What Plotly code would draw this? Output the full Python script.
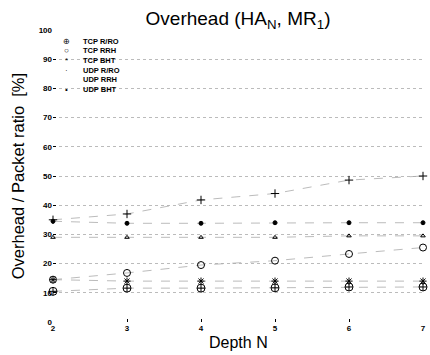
import plotly.graph_objects as go

depth = [2, 3, 4, 5, 6, 7]
tcp_rro = [10.5, 11.6, 11.6, 11.7, 12.0, 12.0]
tcp_rrh = [14.5, 16.8, 19.5, 21.0, 23.3, 25.5]
tcp_bht = [14.5, 14.0, 14.0, 14.0, 14.0, 14.0]
udp_rro = [29.0, 29.0, 29.0, 29.0, 29.5, 29.5]
udp_rrh = [35.0, 37.0, 41.8, 44.0, 48.6, 50.0]
udp_bht = [34.5, 33.8, 33.8, 34.0, 34.0, 34.0]

names = ["TCP R/RO", "TCP RRH", "TCP BHT", "UDP R/RO", "UDP RRH", "UDP BHT"]
series = [tcp_rro, tcp_rrh, tcp_bht, udp_rro, udp_rrh, udp_bht]
symbols = ["circle-cross-open", "circle-open", "asterisk-open", "triangle-up-open", "cross-thin-open", "circle"]
sizes = [8, 7, 6, 4, 6, 4]
glyphs = ["⊕", "○", "*", "·", "", "•"]
yticks = [0, 10, 20, 30, 40, 50, 60, 70, 80, 90, 100]
xticks = [2, 3, 4, 5, 6, 7]
xtick_text = ["2", "3", "4", "5", "6", "7"]

fig = go.Figure()
for name, vals, sym, sz in zip(names, series, symbols, sizes):
    fig.add_trace(go.Scatter(
        x=depth, y=vals, name=name, mode="lines+markers",
        line=dict(color="#aaa", width=0.8, dash="dash"),
        marker=dict(symbol=sym, size=sz, color="black", line=dict(color="black", width=1)),
        cliponaxis=False, showlegend=False))

font = "Liberation Sans, Arial, sans-serif"
W, H, L, R, T, B = 430, 355, 53, 4, 30, 33
pw, ph = W - L - R, H - T - B

ann = []
for i, (g, n) in enumerate(zip(glyphs, names)):
    yy = (H - B - (41 + i * 9.7)) / ph
    if g:
        ann.append(dict(x=(67 - L) / pw, y=yy, xref="paper", yref="paper", text=g, showarrow=False,
                        xanchor="center", yanchor="middle", font=dict(family=font, size=8, color="black")))
    ann.append(dict(x=(81 - L) / pw, y=yy, xref="paper", yref="paper", text=n, showarrow=False,
                    xanchor="left", yanchor="middle", font=dict(family=font, size=7.5, color="black", weight="bold")))
ann.append(dict(x=(18 - L) / pw, y=0.5, xref="paper", yref="paper", text="Overhead / Packet ratio  [%]",
                textangle=-90, showarrow=False, xanchor="center", yanchor="middle",
                font=dict(family=font, size=16.5, color="black")))
ann.append(dict(x=0.5, y=-(342 - (H - B)) / ph, xref="paper", yref="paper", text="Depth N",
                showarrow=False, xanchor="center", yanchor="middle",
                font=dict(family=font, size=16, color="black")))

fig.update_layout(
    width=W, height=H, margin=dict(l=L, r=R, t=T, b=B),
    paper_bgcolor="white", plot_bgcolor="white",
    title=dict(text="Overhead (HA<sub>N</sub>, MR<sub>1</sub>)", x=0.5, xref="paper", xanchor="center",
               y=1 - 18 / H, yanchor="middle", font=dict(family=font, size=19, color="black")),
    annotations=ann,
    xaxis=dict(range=[2, 7], tickmode="array", tickvals=xticks, ticktext=xtick_text,
               ticks="inside", ticklen=3, tickcolor="black",
               showgrid=False, zeroline=False, showline=False, ticklabeloverflow="allow",
               tickfont=dict(family=font, size=8, color="black", weight="bold")),
    yaxis=dict(range=[0, 100], tickvals=yticks, ticks="inside", ticklen=3, tickcolor="black",
               showgrid=True, gridcolor="#bbb", gridwidth=0.6, griddash="dot",
               zeroline=False, showline=False,
               tickfont=dict(family=font, size=8, color="black", weight="bold")),
    showlegend=False,
)
fig.write_html("out.html", config={"displayModeBar": False},
               post_script="document.body.style.margin='0';document.body.style.overflow='hidden';")
